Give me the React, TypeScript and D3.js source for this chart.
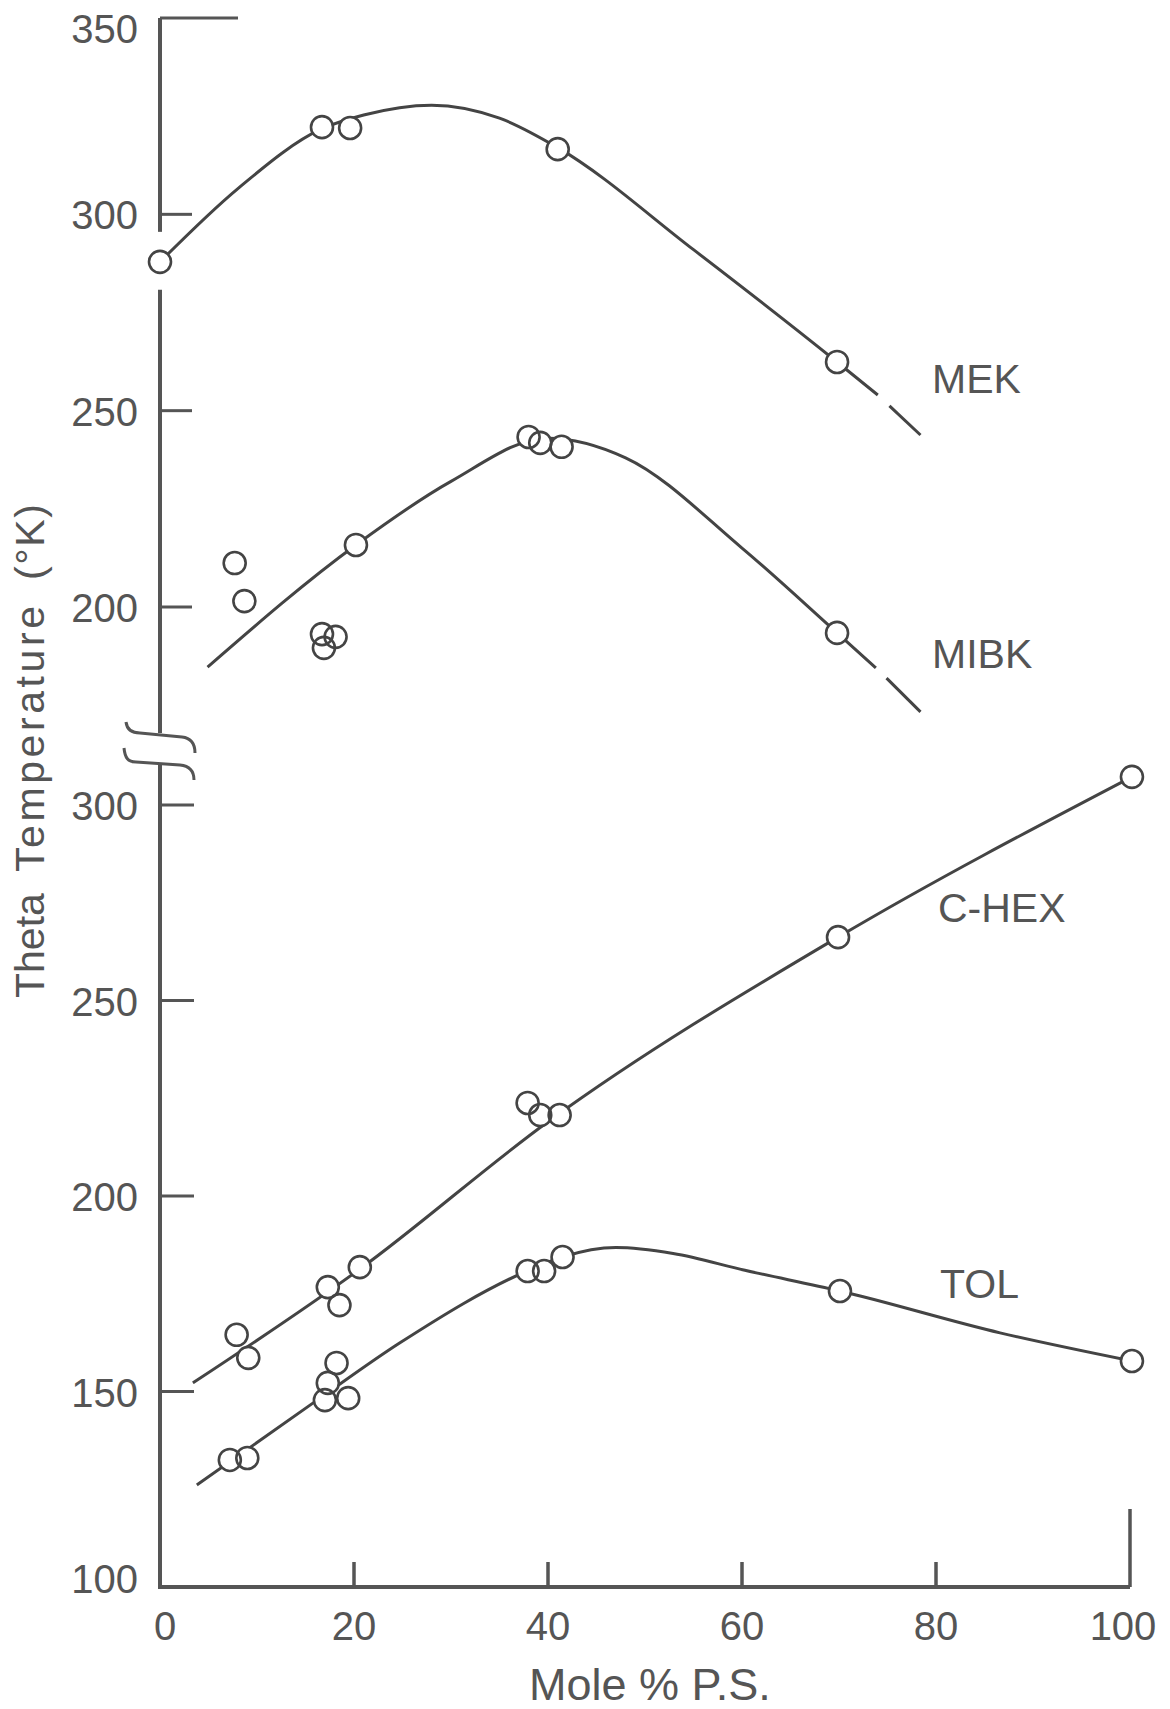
import React from "react";
import * as d3 from "d3";

// axis ticks
const X_TICKS = [0, 20, 40, 60, 80, 100];
const UPPER_TICKS = [350, 300, 250, 200];
const LOWER_TICKS = [300, 250, 200, 150, 100];

// MEK - upper axis (200-350)
const MEK_X = [0, 16.7, 19.6, 41.0, 69.8];
const MEK_Y = [287.9, 322.2, 322.0, 316.6, 262.4];
const MEK_CURVE_X = [0, 8, 16.7, 21, 28, 35, 41, 55, 69.8, 74.0];
const MEK_CURVE_Y = [287.9, 306.5, 321.8, 325.3, 327.8, 324.5, 317, 291, 262.4, 254.0];
const MEK_TAIL_X = [75.2, 78.4];
const MEK_TAIL_Y = [251.2, 243.8];

// MIBK - upper axis
const MIBK_X = [7.7, 8.7, 16.7, 18.1, 16.9, 20.2, 38.0, 39.2, 41.4, 69.8];
const MIBK_Y = [211.2, 201.5, 193.1, 192.4, 189.6, 215.8, 243.3, 241.8, 240.8, 193.4];
const MIBK_CURVE_X = [4.9, 20.2, 30, 40, 48, 60, 69.8, 73.8];
const MIBK_CURVE_Y = [184.7, 215.8, 232, 243, 238, 215, 193.4, 184.5];
const MIBK_TAIL_X = [74.9, 78.4];
const MIBK_TAIL_Y = [181.9, 173.3];

// C-HEX - lower axis (100-300)
const CHEX_X = [7.9, 9.1, 17.3, 18.5, 20.6, 37.9, 39.2, 41.2, 69.9, 100.2];
const CHEX_Y = [164.5, 158.6, 176.7, 172.1, 181.8, 223.8, 220.7, 220.7, 266.2, 307.2];
const CHEX_CURVE_X = [3.4, 20.6, 40, 69.9, 100.2];
const CHEX_CURVE_Y = [152.2, 181.3, 219, 266.2, 307.2];

// TOL - lower axis
const TOL_X = [7.2, 9.0, 17.0, 17.3, 18.2, 19.4, 37.9, 39.6, 41.5, 70.1, 100.2];
const TOL_Y = [132.5, 133.0, 147.8, 152.2, 157.3, 148.3, 180.8, 180.8, 184.4, 175.7, 157.8];
const TOL_CURVE_X = [3.8, 16.2, 24.7, 38, 41.5, 47, 52.9, 60.3, 70.1, 86.6, 100.2];
const TOL_CURVE_Y = [126.1, 147.8, 162.4, 181, 184.4, 186.8, 185.3, 181, 175.7, 165, 157.8];

const zip = (xs: number[], ys: number[]): [number, number][] => xs.map((v, i) => [v, ys[i]]);

const INK = "#444";
const TXT = "#555";
const FONT = "'Liberation Sans', Arial, sans-serif";

export default function App() {
  const x = d3.scaleLinear().domain([0, 100]).range([160, 1130]);
  const yUp = d3.scaleLinear().domain([200, 350]).range([607, 18]);
  const yLo = d3.scaleLinear().domain([100, 300]).range([1587, 805]);

  const series = [
    { name: "MEK", y: yUp, pts: zip(MEK_X, MEK_Y), curve: zip(MEK_CURVE_X, MEK_CURVE_Y), tail: zip(MEK_TAIL_X, MEK_TAIL_Y), lx: 932, ly: 393 },
    { name: "MIBK", y: yUp, pts: zip(MIBK_X, MIBK_Y), curve: zip(MIBK_CURVE_X, MIBK_CURVE_Y), tail: zip(MIBK_TAIL_X, MIBK_TAIL_Y), lx: 932, ly: 668 },
    { name: "C-HEX", y: yLo, pts: zip(CHEX_X, CHEX_Y), curve: zip(CHEX_CURVE_X, CHEX_CURVE_Y), tail: null, lx: 938, ly: 922 },
    { name: "TOL", y: yLo, pts: zip(TOL_X, TOL_Y), curve: zip(TOL_CURVE_X, TOL_CURVE_Y), tail: null, lx: 940, ly: 1298 },
  ];

  const ax = x(0);
  const xAxisY = yLo(100);
  const break1 = 733, break2 = 763;
  const gapC = yUp(MEK_Y[0]);

  return (
    <svg width={1170} height={1709} style={{ position: "absolute", left: 0, top: 0, background: "#fff" }}>
      <g stroke={TXT} strokeWidth={4} fill="none" strokeLinecap="butt">
        {/* y axis segments */}
        <line x1={ax} y1={yUp(350)} x2={ax} y2={gapC - 30} />
        <line x1={ax} y1={gapC + 28} x2={ax} y2={break1} />
        <line x1={ax} y1={break2} x2={ax} y2={xAxisY} />
        {/* x axis */}
        <line x1={ax - 2} y1={xAxisY} x2={x(100)} y2={xAxisY} />
        <line x1={x(100)} y1={xAxisY} x2={x(100)} y2={xAxisY - 78} strokeWidth={3.5} />
        {X_TICKS.filter((t) => t > 0 && t < 100).map((t) => (
          <line key={t} x1={x(t)} y1={xAxisY} x2={x(t)} y2={xAxisY - 25} strokeWidth={3.5} />
        ))}
        {/* y ticks */}
        {UPPER_TICKS.map((t) => (
          <line key={"u" + t} x1={ax} y1={yUp(t)} x2={ax + (t === 350 ? 78 : 32)} y2={yUp(t)} strokeWidth={3} />
        ))}
        {LOWER_TICKS.filter((t) => t > 100).map((t) => (
          <line key={"l" + t} x1={ax} y1={yLo(t)} x2={ax + 34} y2={yLo(t)} strokeWidth={3} />
        ))}
        {/* axis break marks */}
        <path transform={`translate(${ax},${break1})`} d="M -34,-11 C -33,-3 -28,0 -20,0 L 22,4 C 31,5 35,10 35,20" strokeWidth={3} />
        <path transform={`translate(${ax},${break2})`} d="M -36,-15 C -35,-5 -32,-1 -24,-1 L 20,2 C 30,3 34,8 34,17" strokeWidth={3} />
      </g>

      <g fill={TXT} fontFamily={FONT} fontSize={40}>
        {UPPER_TICKS.map((t) => (
          <text key={"ut" + t} x={138} y={Math.max(yUp(t) + 15, 43)} textAnchor="end">{t}</text>
        ))}
        {LOWER_TICKS.map((t) => (
          <text key={"lt" + t} x={138} y={yLo(t) + 15 - (t === 100 ? 9 : 0)} textAnchor="end">{t}</text>
        ))}
        {X_TICKS.map((t) => (
          <text key={"xt" + t} x={x(t) + (t === 0 ? 5 : 0) - (t === 100 ? 7 : 0)} y={1640} textAnchor="middle">{t}</text>
        ))}
        <text x={529} y={1700} fontSize={45}>Mole % P.S.</text>
        <text transform="translate(44,998) rotate(-90)" fontSize={41}>Theta</text>
        <text transform="translate(44,872) rotate(-90)" fontSize={41} textLength={266} lengthAdjust="spacing">Temperature</text>
        <text transform="translate(44,580) rotate(-90)" fontSize={41} textLength={76} lengthAdjust="spacing">(°K)</text>
        {series.map((s) => (
          <text key={"lab" + s.name} x={s.lx} y={s.ly} fontSize={41}>{s.name}</text>
        ))}
      </g>

      {series.map((s) => {
        const line = d3.line<[number, number]>()
          .x((d) => x(d[0]))
          .y((d) => s.y(d[1]))
          .curve(d3.curveMonotoneX);
        return (
          <g key={s.name}>
            <path d={line(s.curve) || ""} fill="none" stroke={INK} strokeWidth={3} />
            {s.tail && <path d={d3.line<[number, number]>().x((d) => x(d[0])).y((d) => s.y(d[1]))(s.tail) || ""} fill="none" stroke={INK} strokeWidth={3} />}
            {s.pts.map((p, i) => (
              <circle key={"f" + i} cx={x(p[0])} cy={s.y(p[1])} r={11} fill="#fff" stroke="none" />
            ))}
            {s.pts.map((p, i) => (
              <circle key={"o" + i} cx={x(p[0])} cy={s.y(p[1])} r={11} fill="none" stroke={INK} strokeWidth={2.6} />
            ))}
          </g>
        );
      })}
    </svg>
  );
}
